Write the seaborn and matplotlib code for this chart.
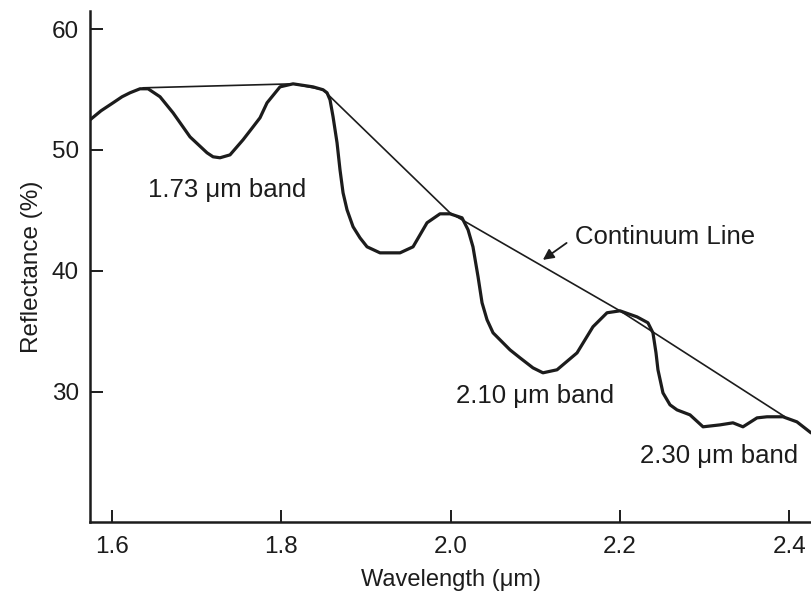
import matplotlib
matplotlib.use("Agg")
import matplotlib.pyplot as plt
import seaborn as sns
import pandas as pd

# Reflectance spectrum
wavelength = [1.5746, 1.5876, 1.6018, 1.6124, 1.6218, 1.6336, 1.6431, 1.6572, 1.6726,
              1.6926, 1.7127, 1.7198, 1.7280, 1.7398, 1.7552, 1.7670, 1.7752, 1.7835,
              1.7988, 1.8142, 1.8378, 1.8496, 1.8543, 1.8578, 1.8614, 1.8661, 1.8696,
              1.8732, 1.8779, 1.8850, 1.8932, 1.9015, 1.9168, 1.9404, 1.9558, 1.9723,
              1.9876, 1.9994, 2.0136, 2.0207, 2.0265, 2.0325, 2.0372, 2.0431, 2.0502,
              2.0702, 2.0820, 2.0973, 2.1091, 2.1257, 2.1493, 2.1681, 2.1847, 2.2000,
              2.2201, 2.2330, 2.2389, 2.2425, 2.2448, 2.2507, 2.2590, 2.2673, 2.2826,
              2.2980, 2.3180, 2.3333, 2.3451, 2.3617, 2.3735, 2.3923, 2.4088, 2.4254]
reflectance = [52.49, 53.24, 53.90, 54.40, 54.73, 55.06, 55.06, 54.40, 53.07,
               51.08, 49.76, 49.43, 49.35, 49.59, 50.84, 51.91, 52.66, 53.90,
               55.22, 55.47, 55.22, 54.98, 54.73, 54.15, 52.74, 50.59, 48.35,
               46.45, 45.04, 43.64, 42.72, 41.98, 41.48, 41.48, 41.98, 43.97,
               44.71, 44.71, 44.38, 43.39, 41.98, 39.50, 37.35, 35.94, 34.86,
               33.45, 32.79, 31.96, 31.55, 31.80, 33.20, 35.36, 36.52, 36.68,
               36.18, 35.69, 34.86, 33.20, 31.80, 29.89, 28.90, 28.48, 28.07,
               27.08, 27.24, 27.41, 27.08, 27.82, 27.91, 27.91, 27.49, 26.58]

# Continuum (hull) line
cont_wavelength = [1.6372, 1.8142, 1.8496, 1.9994, 2.2000, 2.3946]
cont_reflectance = [55.14, 55.47, 54.98, 44.79, 36.68, 27.91]

x_ticks = [1.6, 1.8, 2.0, 2.2, 2.4]
x_tick_labels = ["1.6", "1.8", "2.0", "2.2", "2.4"]
y_ticks = [30, 40, 50, 60]
y_tick_labels = ["30", "40", "50", "60"]

band_labels = ["1.73 μm band", "2.10 μm band", "2.30 μm band"]
band_label_x = [1.643, 2.006, 2.224]
band_label_y = [46.7, 29.66, 24.68]

sns.set_theme(style="ticks")
plt.rcParams['font.family'] = ['Liberation Sans', 'DejaVu Sans']

ink = "#1c1c1c"
fig = plt.figure(figsize=(8.11, 5.94), dpi=100)
ax = fig.add_axes([0.111, 0.1212, 0.889, 0.8603])

spec = pd.DataFrame({"wl": wavelength, "r": reflectance})
cont = pd.DataFrame({"wl": cont_wavelength, "r": cont_reflectance})
sns.lineplot(data=spec, x="wl", y="r", ax=ax, color=ink, linewidth=2.3,
             estimator=None, sort=False, solid_joinstyle="round", solid_capstyle="round")
sns.lineplot(data=cont, x="wl", y="r", ax=ax, color=ink, linewidth=1.2,
             estimator=None, sort=False)

ax.set_xlim(1.5746, 2.4254)
ax.set_ylim(19.2, 61.5)
ax.set_xticks(x_ticks)
ax.set_xticklabels(x_tick_labels)
ax.set_yticks(y_ticks)
ax.set_yticklabels(y_tick_labels)

ax.tick_params(axis="both", direction="in", length=9, width=1.4, colors=ink,
               labelsize=17.5, labelcolor=ink)
ax.tick_params(axis="x", pad=10)
ax.tick_params(axis="y", pad=8)
for side in ("top", "right"):
    ax.spines[side].set_visible(False)
for side in ("left", "bottom"):
    ax.spines[side].set_linewidth(1.8)
    ax.spines[side].set_color(ink)
    ax.spines[side].set_capstyle("projecting")

ax.set_xlabel("Wavelength (μm)", fontsize=17, color=ink, labelpad=8)
ax.set_ylabel("Reflectance (%)", fontsize=17.5, color=ink, labelpad=6)

for txt, tx, ty in zip(band_labels, band_label_x, band_label_y):
    ax.text(tx, ty, txt, fontsize=18.5, color=ink, ha="left", va="center")

ax.text(2.147, 42.8, "Continuum Line", fontsize=18.5, color=ink, ha="left", va="center")
ax.annotate("", xy=(2.109, 40.9), xytext=(2.137, 42.3),
            arrowprops=dict(arrowstyle="-|>", color=ink, lw=1.3,
                            mutation_scale=16, shrinkA=0, shrinkB=0))

fig.savefig("out.png", dpi=100, facecolor="white")
